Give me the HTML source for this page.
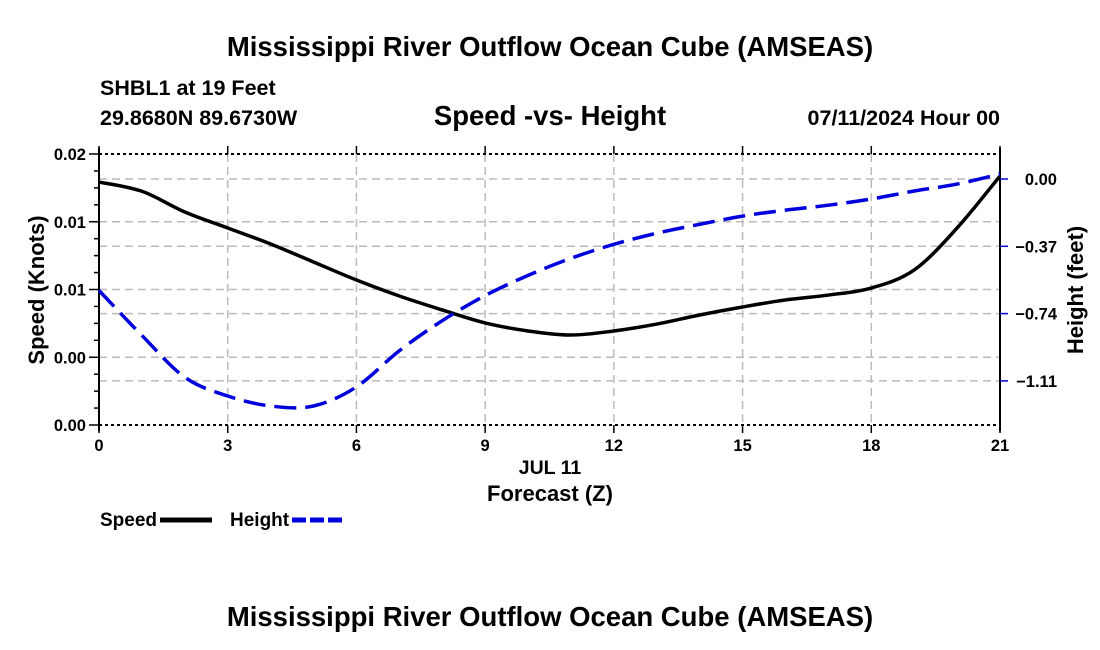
<!DOCTYPE html>
<html><head><meta charset="utf-8"><style>
body{margin:0;background:#fff;}
svg{display:block;font-family:"Liberation Sans",Arial,sans-serif;font-weight:bold;}
</style></head><body>
<svg id="chart" width="1100" height="650">
<text x="550" y="56" font-size="27.5" text-anchor="middle">Mississippi River Outflow Ocean Cube (AMSEAS)</text>
<text x="100" y="95" font-size="21.5">SHBL1 at 19 Feet</text>
<text x="100" y="125" font-size="21.5">29.8680N  89.6730W</text>
<text x="550" y="125" font-size="27.5" text-anchor="middle">Speed -vs- Height</text>
<text x="1000" y="125" font-size="21.5" text-anchor="end">07/11/2024 Hour 00</text>
<g id="grid"></g>
<g id="axes"></g>
<g id="series"></g>
<text x="550" y="474" font-size="19.5" text-anchor="middle">JUL 11</text>
<text x="550" y="501" font-size="22" text-anchor="middle">Forecast (Z)</text>
<text transform="translate(44,290) rotate(-90)" font-size="22" text-anchor="middle">Speed (Knots)</text>
<text transform="translate(1083,290) rotate(-90)" font-size="22" text-anchor="middle">Height (feet)</text>
<g><text x="100" y="526" font-size="19">Speed</text><line x1="160" y1="520" x2="212" y2="520" stroke="#000" stroke-width="5"/></g>
<g><text x="230" y="526" font-size="19">Height</text><line x1="292" y1="520" x2="344" y2="520" stroke="#0000dd" stroke-width="5" stroke-dasharray="14,4"/></g>
<text x="550" y="626" font-size="27.5" text-anchor="middle">Mississippi River Outflow Ocean Cube (AMSEAS)</text>
</svg>
<script>
const hours=[0,1,2,3,4,5,6,7,8,9,10,11,12,13,14,15,16,17,18,19,20,21];
const speed=[0.01793,0.01725,0.01572,0.01454,0.01336,0.01203,0.01070,0.00952,0.00849,0.00753,0.00694,0.00664,0.00694,0.00745,0.00812,0.00871,0.00923,0.00959,0.01011,0.01144,0.01454,0.01838];
const height=[-0.613,-0.860,-1.09,-1.193,-1.248,-1.248,-1.143,-0.944,-0.779,-0.641,-0.530,-0.436,-0.359,-0.298,-0.249,-0.204,-0.171,-0.144,-0.110,-0.066,-0.028,0.028];
const xTicks=[0,3,6,9,12,15,18,21];
const leftTicks=[0,0.005,0.01,0.015,0.02];
const leftLabels=["0.00","0.00","0.01","0.01","0.02"];
const rightTicks=[0,-0.37,-0.74,-1.11];
const rightLabels=["0.00","\u22120.37","\u22120.74","\u22121.11"];
const L=99,R=1000,T=154,B=425;
const xs=h=>L+(h-0)/21*(R-L);
const yl=v=>B-v/0.02*(B-T);
const yr=v=>179+v/(-0.37)*67.3;
const NS="http://www.w3.org/2000/svg";
function mk(p,tag,at){const e=document.createElementNS(NS,tag);for(const k in at)e.setAttribute(k,at[k]);p.appendChild(e);return e;}
function smooth(pts){let d="M"+pts[0][0]+","+pts[0][1];
for(let i=0;i<pts.length-1;i++){const p0=pts[Math.max(0,i-1)],p1=pts[i],p2=pts[i+1],p3=pts[Math.min(pts.length-1,i+2)];
const c1=[p1[0]+(p2[0]-p0[0])/6,p1[1]+(p2[1]-p0[1])/6],c2=[p2[0]-(p3[0]-p1[0])/6,p2[1]-(p3[1]-p1[1])/6];
d+=" C"+c1.join(",")+" "+c2.join(",")+" "+p2.join(",");}return d;}
const grid=document.getElementById('grid'),axes=document.getElementById('axes'),ser=document.getElementById('series');
const gs={stroke:"#bbb","stroke-width":1.5,"stroke-dasharray":"8,5"};
xTicks.slice(1,-1).forEach(h=>{const l=mk(grid,'line',Object.assign({x1:xs(h),x2:xs(h),y1:T,y2:B},gs));

});
leftTicks.slice(1,-1).forEach(v=>{const l=mk(grid,'line',Object.assign({x1:L,x2:R,y1:yl(v),y2:yl(v)},gs));

});
rightTicks.forEach(v=>{const l=mk(grid,'line',Object.assign({x1:L,x2:R,y1:yr(v),y2:yr(v)},gs));

});
mk(axes,'line',{x1:L,x2:R,y1:T,y2:T,stroke:"#000","stroke-width":2,"stroke-dasharray":"3,3"});
mk(axes,'line',{x1:L,x2:R,y1:B,y2:B,stroke:"#000","stroke-width":2,"stroke-dasharray":"3,3"});
mk(axes,'line',{x1:L,x2:L,y1:T-6,y2:B+6,stroke:"#000","stroke-width":2});
mk(axes,'line',{x1:R,x2:R,y1:T-6,y2:B+6,stroke:"#000","stroke-width":2});
for(let i=0;i<=16;i++){const y=B-i*(B-T)/16;mk(axes,'line',{x1:L-(i%4==0?10:5),x2:L,y1:y,y2:y,stroke:"#000","stroke-width":1.5});}
leftTicks.forEach((v,i)=>{const t=mk(axes,'text',{x:L-13,y:yl(v)+6,"font-size":16.5,"text-anchor":"end"});t.textContent=leftLabels[i];

});
rightTicks.forEach((v,i)=>{mk(axes,'line',{x1:R,x2:R+8,y1:yr(v),y2:yr(v),stroke:"#0000cc","stroke-width":1.5});
const t=mk(axes,'text',{x:1057,y:yr(v)+6,"font-size":16.5,"text-anchor":"end"});t.textContent=rightLabels[i];

});
xTicks.forEach(h=>{mk(axes,'line',{x1:xs(h),x2:xs(h),y1:T-8,y2:T,stroke:"#000","stroke-width":1.5});
mk(axes,'line',{x1:xs(h),x2:xs(h),y1:B,y2:B+8,stroke:"#000","stroke-width":1.5});
const t=mk(axes,'text',{x:xs(h),y:B+26,"font-size":16.5,"text-anchor":"middle"});t.textContent=h;

});
const p1=mk(ser,'path',{d:smooth(hours.map((h,i)=>[xs(h),yl(speed[i])])),fill:"none",stroke:"#000","stroke-width":3.5,"stroke-linejoin":"round"});


const p2=mk(ser,'path',{d:smooth(hours.map((h,i)=>[xs(h),yr(height[i])])),fill:"none",stroke:"#0000dd","stroke-width":3.5,"stroke-dasharray":"22,9"});


</script>
</body></html>
